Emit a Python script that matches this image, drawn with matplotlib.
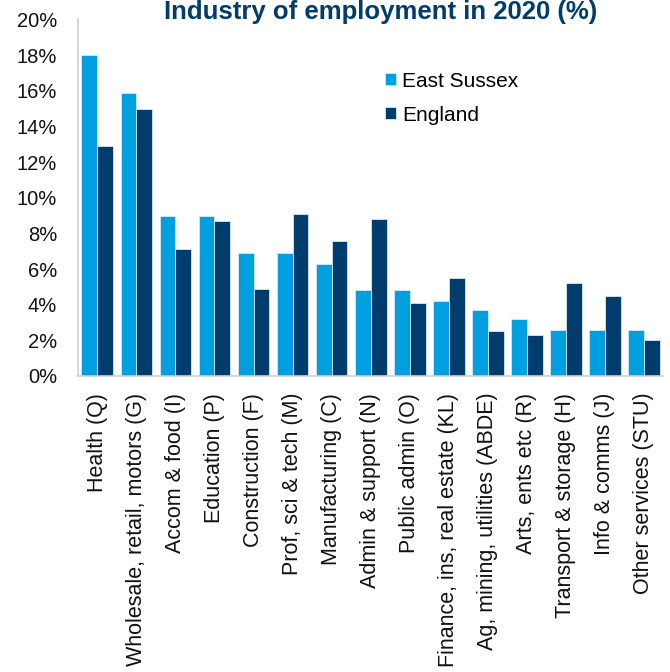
import matplotlib
matplotlib.use("Agg")
import matplotlib.pyplot as plt
import numpy as np
from matplotlib.ticker import FuncFormatter, MultipleLocator

plt.rcParams['font.family'] = ['Liberation Sans', 'DejaVu Sans']

industries = [
    "Health (Q)", "Wholesale, retail, motors (G)", "Accom & food (I)",
    "Education (P)", "Construction (F)", "Prof, sci & tech (M)",
    "Manufacturing (C)", "Admin & support (N)", "Public admin (O)",
    "Finance, ins, real estate (KL)", "Ag, mining, utilities (ABDE)",
    "Arts, ents etc (R)", "Transport & storage (H)", "Info & comms (J)",
    "Other services (STU)",
]
east_sussex = [18.0, 15.9, 9.0, 9.0, 6.9, 6.9, 6.3, 4.8, 4.8, 4.2, 3.7, 3.2, 2.6, 2.6, 2.6]
england = [12.9, 15.0, 7.1, 8.7, 4.9, 9.1, 7.6, 8.8, 4.1, 5.5, 2.5, 2.3, 5.2, 4.5, 2.0]

c_es = "#009fdf"
c_en = "#003c6c"

fig = plt.figure(figsize=(6.70, 6.72), dpi=100)
ax = fig.add_axes([0.1164, 0.4405, 0.8732, 0.5305])

x = np.arange(len(industries))
w = 0.41
ax.bar(x - w / 2, east_sussex, w, color=c_es, edgecolor="#d8e8f0", linewidth=0.6, label="East Sussex")
ax.bar(x + w / 2, england, w, color=c_en, edgecolor="#d8e8f0", linewidth=0.6, label="England")

ax.set_xlim(-0.5, len(industries) - 0.5)
ax.set_ylim(0, 20)
ax.yaxis.set_major_locator(MultipleLocator(2))
ax.yaxis.set_major_formatter(FuncFormatter(lambda v, _: f"{v:.0f}%"))
ax.set_xticks(x)
ax.set_xticklabels(industries, rotation=90, fontsize=15.5, color="#111111")
ax.tick_params(axis="x", length=0, pad=12)
ax.tick_params(axis="y", length=0, pad=15, labelsize=14.5, labelcolor="#111111")

for s in ("top", "right"):
    ax.spines[s].set_visible(False)
for s in ("left", "bottom"):
    ax.spines[s].set_color("#d0d0d0")
    ax.spines[s].set_linewidth(1.2)

fig.text(0.568, 1 - 19 / 672, "Industry of employment in 2020 (%)", ha="center", va="baseline",
         fontsize=18.5, fontweight="bold", color="#003c6c")

ax.legend(loc="upper left", bbox_to_anchor=(0.525, 0.854), frameon=False, fontsize=15,
          handlelength=0.5, handleheight=0.5, handletextpad=0.3, labelspacing=0.72,
          borderaxespad=0, borderpad=0)

fig.savefig("out.png", dpi=100)
